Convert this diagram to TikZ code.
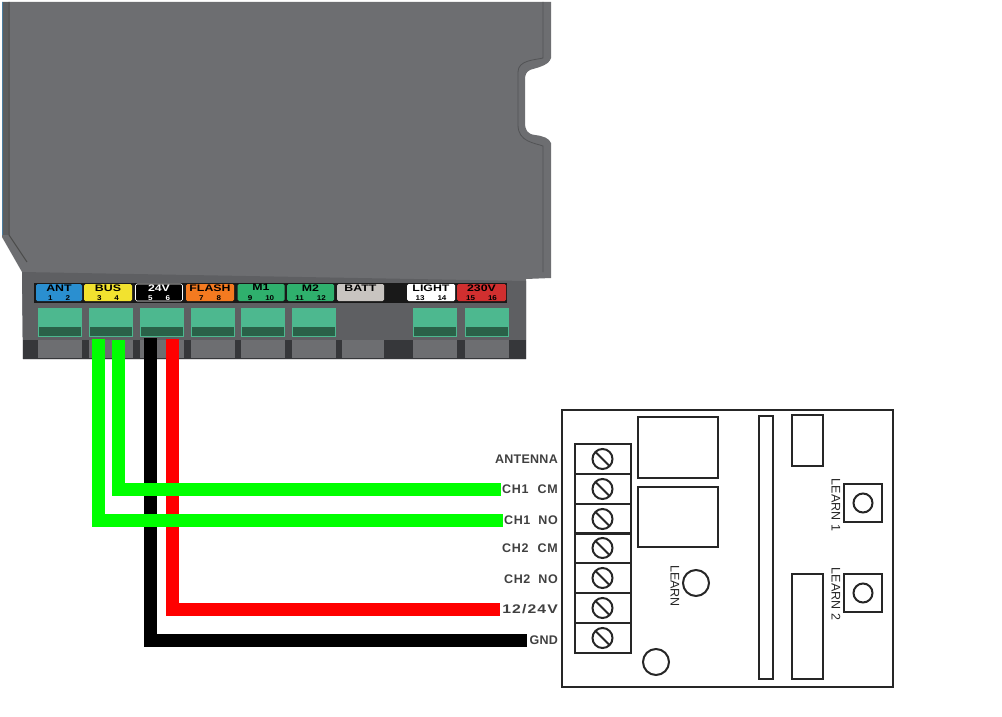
\documentclass[tikz,border=0pt]{standalone}
\usepackage{fontspec}
\setmainfont{Liberation Sans}
\usetikzlibrary{positioning,calc}
\definecolor{caseGray}{HTML}{6D6E71}
\definecolor{lowGray}{HTML}{5E5F62}
\definecolor{darkStrip}{HTML}{36373A}
\definecolor{termGreen}{HTML}{4DB88F}
\definecolor{slotGreen}{HTML}{2A6148}
\definecolor{wireGreen}{HTML}{00FF00}
\definecolor{tagBlue}{HTML}{2A8FD0}
\definecolor{tagYellow}{HTML}{F2E22F}
\definecolor{tagOrange}{HTML}{F47A20}
\definecolor{tagGreen}{HTML}{2FB06D}
\definecolor{tagRed}{HTML}{D12F2F}
\definecolor{tagGrey}{HTML}{C8C4C0}
\newcommand{\tagtxt}[3]{\scalebox{1.3}[1]{\textbf{\fontsize{9.5}{9.5}\selectfont #1}}\\[-2.5pt]{\fontsize{7}{7}\selectfont\scalebox{1.15}[1]{\textbf{#2}}\hspace{13pt}\scalebox{1.15}[1]{\textbf{#3}}}}
\tikzset{
  tagbox/.style={rounded corners=1.5pt,minimum width=#1,minimum height=17pt,inner sep=0pt,align=center,text=black},
  wire/.style={line width=13pt,line join=miter},
  pcb/.style={draw=black!85,line width=2pt},
  sig/.style={text=black!75,font=\bfseries\fontsize{12.5}{12.5}\selectfont,inner sep=0pt,anchor=east},
  learn/.style={text=black!85,font=\fontsize{12.5}{12.5}\selectfont,inner sep=0pt,rotate=-90},
}
\begin{document}
\begin{tikzpicture}[x=1pt,y=-1pt]
\useasboundingbox (0,0) rectangle (1002,717);
% case
\fill[caseGray] (2,2) -- (551,2) -- (551,58) .. controls (549,66) and (535,68) .. (530,70) .. controls (526,72) and (525,75) .. (525,80)
  -- (525,122) .. controls (525,130) and (527,134) .. (535,135) .. controls (543,136) and (549,138) .. (551,143) -- (551,278) -- (526,279) -- (526,359) -- (23,359) -- (22,272) -- (2,237) -- cycle;
\fill[lowGray] (22,272) -- (526,281) -- (526,359) -- (23,359) -- cycle;
\fill[darkStrip] (23,340) rectangle (526,359);
\fill[black!15!caseGray] (2,2) rectangle (9,235);
\draw[line width=0.8pt,tagBlue!50!caseGray] (2.4,2) -- (2.4,235);
\draw[line width=1pt,black!70] (9,2) -- (9,235) -- (27,262);
\draw[line width=0.8pt,black!25!caseGray] (543,2) -- (543,58) .. controls (535,60) and (518,60) .. (518,72) -- (518,125) .. controls (518,142) and (535,143) .. (543,146) -- (543,272);
% tags
\fill[black!90] (34,283) rectangle (507,303);
\node[tagbox=46pt,fill=tagBlue] (ant) at (59,292.5) {\tagtxt{ANT}{1}{2}};
\node[tagbox=48pt,fill=tagYellow] (bus) at (108,292.5) {\tagtxt{BUS}{3}{4}};
\node[tagbox=47pt,fill=black,draw=white,line width=0.7pt,text=white] (vdc) at (159,292.5) {\tagtxt{24V}{5}{6}};
\node[tagbox=48pt,fill=tagOrange] (flash) at (210,292.5) {\tagtxt{FLASH}{7}{8}};
\node[tagbox=47pt,fill=tagGreen] (mone) at (261,292.5) {\tagtxt{M1}{9}{10}};
\node[tagbox=47pt,fill=tagGreen] (mtwo) at (310.5,292.5) {\tagtxt{M2}{11}{12}};
\node[tagbox=47pt,fill=tagGrey] (batt) at (360.5,292.5) {\tagtxt{BATT}{\phantom{1}}{\phantom{1}}};
\node[tagbox=48pt,fill=white] (light) at (431,292.5) {\tagtxt{LIGHT}{13}{14}};
\node[tagbox=49pt,fill=tagRed] (mains) at (481.5,292.5) {\tagtxt{230V}{15}{16}};
% terminals
\foreach \x in {38,89,140,191,241,292,413,465}{
  \fill[termGreen] (\x,308) rectangle ++(44,29);
  \fill[slotGreen] (\x+1,327) rectangle ++(42,8.5);
  \fill[caseGray] (\x,340) rectangle ++(44,18);
}
\fill[caseGray] (342,340) rectangle (384,358);
% receiver board
\draw[pcb] (562,410) rectangle (893,687);
\draw[pcb] (638,417) rectangle (718,478);
\draw[pcb] (638,487) rectangle (718,547);
\draw[pcb] (759,416) rectangle (773,679);
\draw[pcb] (792,415) rectangle (823,466);
\draw[pcb] (792,574) rectangle (823,679);
\draw[pcb] (844,484) rectangle (882,522);
\draw[pcb] (844,574) rectangle (882,612);
\draw[pcb] (863,503) circle (9.5);
\draw[pcb] (863,593) circle (9.5);
\draw[pcb] (696,583) circle (13);
\draw[pcb] (656,662) circle (13);
\foreach \y [count=\i] in {444,474,504,533,563,593,623}{
  \draw[pcb] (575,\y) rectangle (631,\y+30);
  \draw[pcb] (602.5,\y+15) circle (10);
  \draw[pcb] (595.5,\y+8) -- (609.5,\y+22);
}
\node[learn] (lrn) at (675,586) {LEARN};
\node[learn] (lrna) at (836,505) {LEARN 1};
\node[learn] (lrnb) at (836,594) {LEARN 2};
% labels
\node[sig] (antenna) at (558,459.5) {\addfontfeatures{LetterSpace=2}ANTENNA};
\node[sig] (cha) at (558,489) {\addfontfeatures{LetterSpace=6}CH1\hspace{9pt}CM};
\node[sig] (chb) at (558,520) {\addfontfeatures{LetterSpace=5}CH1\hspace{8pt}NO};
\node[sig] (chc) at (558,548.5) {\addfontfeatures{LetterSpace=6}CH2\hspace{9pt}CM};
\node[sig] (chd) at (558,579) {\addfontfeatures{LetterSpace=5}CH2\hspace{8pt}NO};
\node[sig] (pwr) at (558,609) {\scalebox{1.26}[1]{\addfontfeatures{LetterSpace=7}12/24V}};
\node[sig] (gnd) at (558,640) {\addfontfeatures{LetterSpace=2}GND};
% wires
\coordinate (busa) at (98.5,339);
\coordinate (busb) at (118.5,340);
\coordinate (vneg) at (150.5,338);
\coordinate (vpos) at (172.5,339);
\draw[wire,black] (vneg) |- ($(gnd.west)+(-2,0)$);
\draw[wire,red] (vpos) |- ($(pwr.west)+(-2,0)$);
\draw[wire,wireGreen] (busb) |- ($(cha.west)+(-1,0)$);
\draw[wire,wireGreen] (busa) |- ($(chb.west)+(-1,0)$);
\end{tikzpicture}
\end{document}
